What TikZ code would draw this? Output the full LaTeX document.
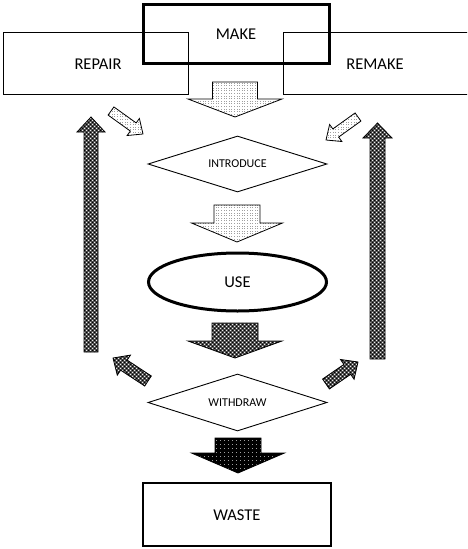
\documentclass[tikz,border=0pt]{standalone}
\usepackage{fontspec}
\setmainfont{Carlito}
\usetikzlibrary{patterns,calc,shapes.geometric}

\pgfdeclarepatternformonly{sqdots}{\pgfqpoint{-1pt}{-1pt}}{\pgfqpoint{4pt}{4pt}}{\pgfqpoint{2.6pt}{2.6pt}}%
  {\pgfpathrectangle{\pgfqpoint{0pt}{0pt}}{\pgfqpoint{1pt}{1pt}}\pgfusepath{fill}}
\pgfdeclarepatternformonly{checkA}{\pgfqpoint{-1pt}{-1pt}}{\pgfqpoint{5pt}{5pt}}{\pgfqpoint{4pt}{4pt}}%
  {\pgfpathrectangle{\pgfqpoint{0pt}{0pt}}{\pgfqpoint{1.2pt}{1.2pt}}%
   \pgfpathrectangle{\pgfqpoint{2pt}{2pt}}{\pgfqpoint{1.2pt}{1.2pt}}\pgfusepath{fill}}
\pgfdeclarepatternformonly{checkB}{\pgfqpoint{-1pt}{-1pt}}{\pgfqpoint{5pt}{5pt}}{\pgfqpoint{4pt}{4pt}}%
  {\pgfpathrectangle{\pgfqpoint{2pt}{0pt}}{\pgfqpoint{1.2pt}{1.2pt}}%
   \pgfpathrectangle{\pgfqpoint{0pt}{2pt}}{\pgfqpoint{1.2pt}{1.2pt}}\pgfusepath{fill}}
\pgfdeclarepatternformonly{sparse}{\pgfqpoint{-1pt}{-1pt}}{\pgfqpoint{5pt}{5pt}}{\pgfqpoint{4pt}{4pt}}%
  {\pgfpathrectangle{\pgfqpoint{0pt}{0pt}}{\pgfqpoint{1pt}{1pt}}\pgfusepath{fill}}

\newcommand\barrow[6]{%
  \draw[#1] let \p1=(#2), \p2=(#3),
      \n1={atan2(\y2-\y1,\x2-\x1)},
      \n2={veclen(\x2-\x1,\y2-\y1)} in
    [shift={(\p1)}, rotate=\n1]
    ({0pt},{-#4pt/2}) -- ({\n2-#6pt},{-#4pt/2}) -- ({\n2-#6pt},{-#5pt/2})
    -- ({\n2},{0pt}) -- ({\n2-#6pt},{#5pt/2}) -- ({\n2-#6pt},{#4pt/2})
    -- ({0pt},{#4pt/2}) -- cycle;
}

\tikzset{
  thinbox/.style={draw=black, line width=0.9pt},
  thickbox/.style={draw=black, line width=3pt},
  bigtext/.style={font=\fontsize{16.5}{18}\selectfont},
  smalltext/.style={font=\fontsize{12}{14}\selectfont},
  lightarrow/.style={draw=black, line width=0.8pt, line join=miter,
    preaction={fill=white}, pattern=sqdots, pattern color=gray!75},
  midarrow/.style={draw=black, line width=0.8pt, line join=miter,
    preaction={fill=gray!60!black}, preaction={pattern=checkA, pattern color=white!85!gray},
    pattern=checkB, pattern color=black},
  darkarrow/.style={draw=black, line width=0.8pt, line join=miter,
    preaction={fill=black}, pattern=sparse, pattern color=gray!75},
}

\begin{document}
\begin{tikzpicture}[x=1pt, y=-1pt]
\useasboundingbox (0,0) rectangle (467,549);
\begin{scope}
\clip (0,0) rectangle (467,549);

% boxes
\draw[thinbox] (3,32) rectangle (188,94);
\node[bigtext] (repair) at (98,64) {REPAIR};
\draw[thinbox] (283,32) rectangle (475,94);
\node[bigtext] (remake) at (375,64) {REMAKE};
\draw[thickbox] (143,4) rectangle (329,63);
\node[bigtext] (make) at (236,34) {MAKE};

\node[draw=black, line width=0.9pt, diamond, aspect=3.2, minimum width=179pt,
      minimum height=56pt, inner sep=0pt, smalltext] (intro) at (237.5,164) {INTRODUCE};
\node[draw=black, line width=3pt, ellipse, minimum width=178pt, minimum height=58pt,
      bigtext] (use) at (237.5,282) {USE};
\node[draw=black, line width=0.9pt, diamond, aspect=3.2, minimum width=179pt,
      minimum height=57pt, inner sep=0pt, smalltext] (withdraw) at (237.5,402.5) {WITHDRAW};
\draw[line width=2.5pt] (143,483) rectangle (331,546);
\node[bigtext] (waste) at (237,515) {WASTE};

% arrow end points
\coordinate (m1) at (235,82);   \coordinate (m2) at (235,117);
\coordinate (i1) at (237,205);  \coordinate (i2) at (237,242);
\coordinate (u1) at (235,323);  \coordinate (u2) at (235,358);
\coordinate (w1) at (238,438);  \coordinate (w2) at (238,473);
\coordinate (la1) at (111,111); \coordinate (la2) at (143,134);
\coordinate (ra1) at (358,117); \coordinate (ra2) at (326,140);
\coordinate (lt1) at (91,352);  \coordinate (lt2) at (91,117);
\coordinate (rt1) at (377.5,359); \coordinate (rt2) at (377.5,123);
\coordinate (ld1) at (148,381); \coordinate (ld2) at (113,358);
\coordinate (rd1) at (326,384); \coordinate (rd2) at (358,362);

\barrow{lightarrow}{m1}{m2}{45}{94}{18}
\barrow{lightarrow}{i1}{i2}{46}{91}{19}
\barrow{midarrow}{u1}{u2}{46}{94}{17}
\barrow{darkarrow}{w1}{w2}{46}{93}{20}
\barrow{lightarrow}{la1}{la2}{10}{21}{12}
\barrow{lightarrow}{ra1}{ra2}{10}{21}{12}
\barrow{midarrow}{lt1}{lt2}{14}{28}{15}
\barrow{midarrow}{rt1}{rt2}{15}{29}{15}
\barrow{midarrow}{ld1}{ld2}{12}{24}{13}
\barrow{midarrow}{rd1}{rd2}{12}{24}{13}
\end{scope}
\end{tikzpicture}
\end{document}
